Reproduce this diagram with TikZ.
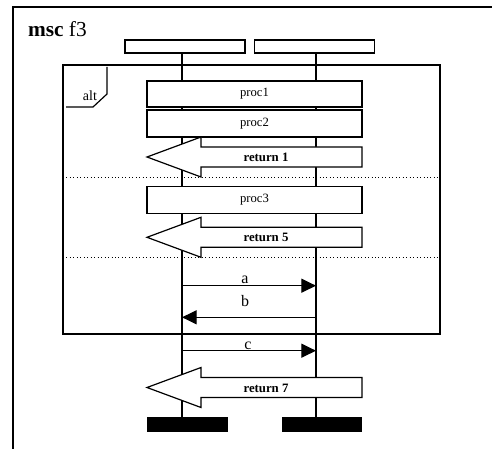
\documentclass[tikz,border=0pt]{standalone}
\usepackage{fontspec}
\setmainfont{Liberation Serif}
\usetikzlibrary{arrows.meta}
\begin{document}
\begin{tikzpicture}[x=0.75pt,y=-0.75pt,line width=0.9pt,
  hdrbox/.style={draw,fill=white,minimum width=90pt,minimum height=9.75pt,inner sep=0pt},
  procbox/.style={draw,fill=white,minimum width=161.25pt,inner sep=0pt,font=\fontsize{9.5pt}{11pt}\selectfont},
  endbar/.style={fill=black,minimum width=60.3pt,minimum height=11.25pt,inner sep=0pt},
  retlbl/.style={inner sep=0pt,font=\fontsize{9.6pt}{11pt}\selectfont\bfseries},
  retshape/.style={draw,fill=white,line width=0.9pt},
  msg/.style={-{Triangle[length=11pt,width=10.5pt]},line width=0.9pt},
  msglbl/.style={inner sep=0pt,anchor=base,font=\fontsize{12pt}{14pt}\selectfont},
  sep/.style={dotted,line width=0.6pt}]
\useasboundingbox (0,0) rectangle (492,449);
% outer frame (only top and left visible)
\draw (13,460) -- (13,7) -- (500,7);
\node[anchor=base west,inner sep=0pt,font=\fontsize{16pt}{19pt}\selectfont] (title) at (27.5,36.5) {\textbf{msc} f3};
% instance heads
\node[hdrbox] (head1) at (185,46.5) {};
\node[hdrbox] (head2) at (314.8,46.5) {};
% end bars
\node[endbar] (bar1) at (187.5,424.8) {};
\node[endbar] (bar2) at (321.7,424.8) {};
% lifelines
\coordinate (x1) at (182,0);
\coordinate (x2) at (316,0);
\draw (head1.south -| x1) -- (bar1.north -| x1);
\draw (head2.south -| x2) -- (bar2.north -| x2);
% alt frame
\draw (63,65) rectangle (440,334);
\draw (107,67) -- (107,94) -- (93,107) -- (66,107);
\node[anchor=base west,inner sep=0pt,font=\fontsize{10.5pt}{12pt}\selectfont] (alt) at (82.3,100.7) {alt};
\draw[sep] (63,177) -- (440,177);
\draw[sep] (63,257.3) -- (440,257.3);
% proc boxes
\node[procbox,minimum height=19.5pt] (proc1) at (254.5,94) {proc1};
\node[procbox,minimum height=20.25pt] (proc2) at (254.5,123.5) {proc2};
\node[procbox,minimum height=20pt] (proc3) at (254.5,200) {proc3};
% return arrows
\newcommand\myretarrow[3]{%
  \draw[retshape] (147,#1) -- (201,#1-20) -- (201,#1-10) -- (362,#1-10)
     -- (362,#1+10) -- (201,#1+10) -- (201,#1+20) -- cycle;
  \node[retlbl] (#2) at (266,#1+0.5) {#3};}
\myretarrow{157}{ret1}{return 1}
\myretarrow{237.3}{ret5}{return 5}
\myretarrow{387.5}{ret7}{return 7}
% messages
\coordinate (a1) at (182,285.7); \coordinate (a2) at (316,285.7);
\coordinate (b1) at (316,317.3); \coordinate (b2) at (182,317.3);
\coordinate (c1) at (182,350.7); \coordinate (c2) at (316,350.7);
\draw[msg] (a1) -- (a2);
\draw[msg] (b1) -- (b2);
\draw[msg] (c1) -- (c2);
\node[msglbl] (la) at (245,283.3) {a};
\node[msglbl] (lb) at (245,306) {b};
\node[msglbl] (lc) at (248,349) {c};
\end{tikzpicture}
\end{document}
